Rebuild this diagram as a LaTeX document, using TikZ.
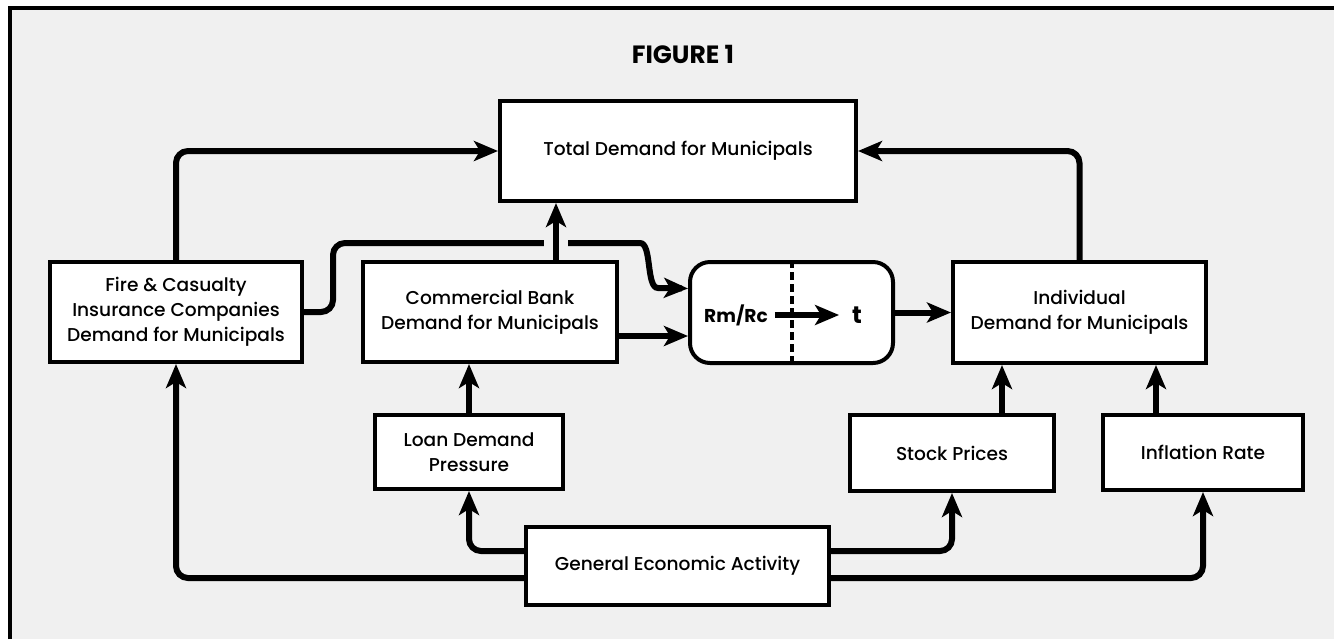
\documentclass[tikz,border=0pt]{standalone}
\usepackage{fontspec}
\setmainfont{Poppins}[UprightFont=* Medium, BoldFont=* Bold]
\usetikzlibrary{arrows.meta,positioning}

\definecolor{paper}{gray}{0.94}

\begin{document}
\begin{tikzpicture}[x=0.5pt, y=-0.5pt,
    font=\fontsize{9.3}{12.5}\selectfont,
    box/.style={rectangle, draw=black, line width=2pt, fill=white, inner sep=2pt, align=center},
    flow/.style={line width=3pt, rounded corners=6pt, -{Stealth[length=12pt,width=10pt,inset=3pt]}},
   ]
    \useasboundingbox (0,0) rectangle (1334,639);
    \fill[paper] (10,8) rectangle (1334,639);
    \draw[line width=2pt] (10,639) -- (10,8) -- (1334,8);

    \node (title) at (683,54) {\bfseries\fontsize{12.5}{15}\selectfont FIGURE 1};

    \node (total)   [box, minimum width=178pt, minimum height=50pt] at (678,151) {Total Demand for Municipals};
    \node (fire)    [box, minimum width=126pt, minimum height=50pt] at (176,312) {Fire \& Casualty\\Insurance Companies\\Demand for Municipals};
    \node (bank)    [box, minimum width=127pt, minimum height=50pt] at (490,312) {Commercial Bank\\Demand for Municipals};
    \node (ratio)   [box, rounded corners=10pt, minimum width=101.5pt, minimum height=50.5pt] at (791.5,312.5) {};
    \node (indiv)   [box, minimum width=126.5pt, minimum height=50.5pt] at (1079.5,312.5) {Individual\\Demand for Municipals};
    \node (loan)    [box, minimum width=94pt, minimum height=37pt] at (469,452) {Loan Demand\\Pressure};
    \node (stock)   [box, minimum width=102pt, minimum height=38pt] at (952,453) {Stock Prices};
    \node (infl)    [box, minimum width=100pt, minimum height=37.5pt] at (1203,452.5) {Inflation Rate};
    \node (general) [box, minimum width=151.5pt, minimum height=39pt] at (677.5,566) {General Economic Activity};

    % inside the ratio box
    \draw[line width=2pt, dash pattern=on 4pt off 2pt] (ratio.north) -- (ratio.south);
    \node (rmrc) at (736,315) {\bfseries Rm/Rc};
    \node (tt)   at (857,315) {\bfseries\large t};
    \draw[flow, shorten >=3pt] (rmrc.east) -- (tt.west);

    % upper connectors
    \draw[flow] (fire.north) |- (total.west);
    \draw[flow] (indiv.north) |- (total.east);
    \draw[flow] (fire.east) -| (333,243) -- (628,243) to[out=0,in=180] (670,288) -- ([yshift=12pt]ratio.west);
    \fill[paper] (544,234) rectangle (568,252);
    \draw[flow] ([xshift=33pt]bank.north) -- ([xshift=33pt]bank.north |- total.south);
    \draw[flow] ([yshift=-12pt]bank.east) -- ([yshift=-12pt]bank.east -| ratio.west);
    \draw[flow] (ratio.east) -- (ratio.east -| indiv.west);

    % lower connectors
    \draw[flow] (loan.north) -- (loan.north |- bank.south);
    \draw[flow] ([xshift=25pt]stock.north) -- ([xshift=25pt]stock.north |- indiv.south);
    \draw[flow] ([xshift=-23.5pt]infl.north) -- ([xshift=-23.5pt]infl.north |- indiv.south);
    \draw[flow] ([yshift=-6pt]general.west) -| (fire.south);
    \draw[flow] ([yshift=7.5pt]general.west) -| (loan.south);
    \draw[flow] ([yshift=7.5pt]general.east) -| (stock.south);
    \draw[flow] ([yshift=-6pt]general.east) -| (infl.south);
\end{tikzpicture}
\end{document}
